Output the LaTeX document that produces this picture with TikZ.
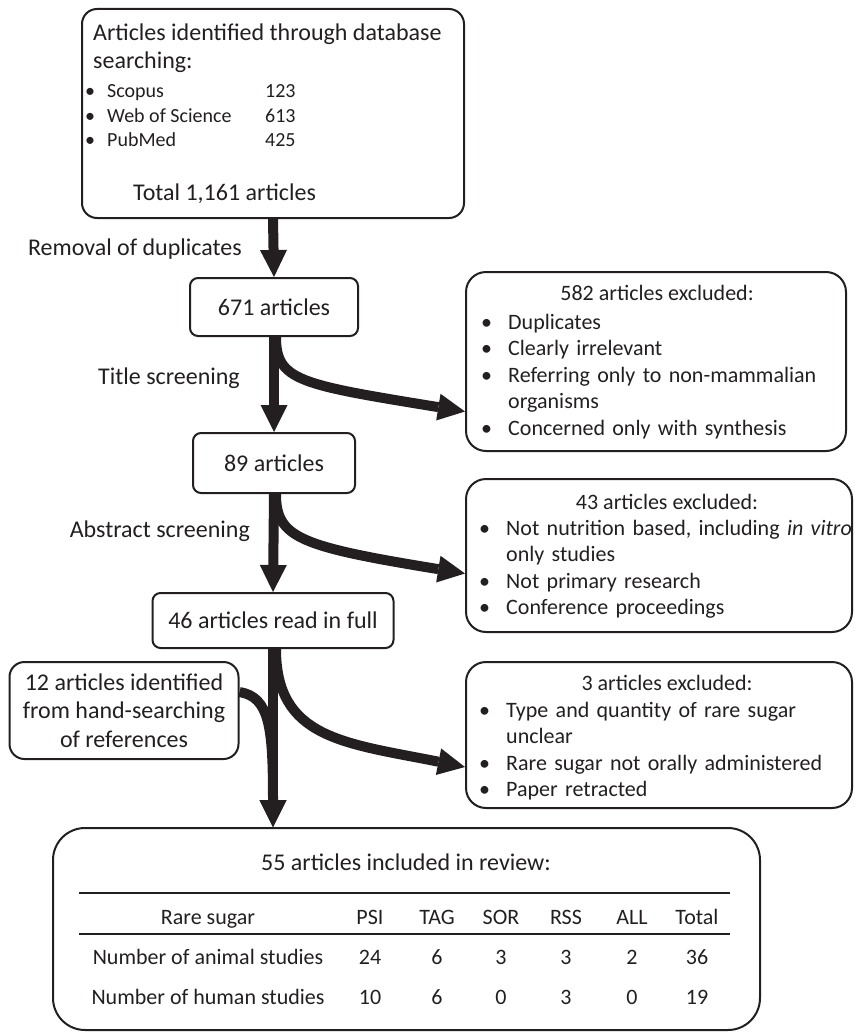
\documentclass[tikz,border=0pt]{standalone}
\usepackage{fontspec}
\setmainfont{Carlito}
\usepackage{tikz}
\usetikzlibrary{arrows.meta}
\definecolor{inkgrey}{RGB}{35,31,32}
\newcommand{\exbul}{\makebox[27pt][l]{\textbullet}}

\begin{document}
\begin{tikzpicture}[x=1pt,y=-1pt,
    color=inkgrey,
    flowbox/.style={rectangle, draw, line width=2pt, inner sep=0pt, align=center},
    big/.style={font=\fontsize{24}{28.5}\selectfont},
    mid/.style={font=\fontsize{22}{26.6}\selectfont},
    txt/.style={inner sep=0pt},
    flow/.style={line width=10pt, -{Triangle[width=27pt,length=27pt,line width=0pt]}}]
\useasboundingbox (0,0) rectangle (854,1033);

% identification
\node [flowbox,
       rounded corners=15pt,
       minimum width=382pt,
       minimum height=209pt](sea) at (273,113.5) {};
\node [txt, big, anchor=base west](seat1) at (93,41) {Articles identified through database};
\node [txt, big, anchor=base west](seat2) at (93,69) {searching:};
\foreach \db/\num [count=\i] in {Scopus/123, Web of Science/613, PubMed/425}
  \node [txt,
         font=\fontsize{20}{24.5}\selectfont,
         anchor=base west](sear\i) at (85,{97.5+24.5*(\i-1)})
         {\makebox[180pt][l]{\makebox[22pt][l]{\textbullet}\db}\num};
\node [txt, big, anchor=base west](seatot) at (133,200) {Total 1,161 articles};

% screening steps
\node [flowbox, big,
       rounded corners=8pt,
       minimum width=168pt,
       minimum height=58pt](scr) at (274,307) {671 articles};
\node [flowbox, big,
       rounded corners=8pt,
       minimum width=162pt,
       minimum height=60pt](abs) at (274,463) {89 articles};
\node [flowbox, big,
       rounded corners=8pt,
       minimum width=241pt,
       minimum height=55pt](full) at (273,620.5) {46 articles read in full};
\node [flowbox, big,
       rounded corners=15pt,
       minimum width=229pt,
       minimum height=97pt](hand) at (124,710.5) {12 articles identified\\from hand-searching\\of references};

\node [txt, big, anchor=base east](rmt) at (242,255) {Removal of duplicates};
\node [txt, big, anchor=base east](tst) at (240,384) {Title screening};
\node [txt, big, anchor=base east](ast) at (250,537) {Abstract screening};

% exclusions
\node [flowbox,
       rounded corners=20pt,
       minimum width=380pt,
       minimum height=179pt](ex1) at (656,361.5) {};
\node [txt, mid, anchor=base](ex1t) at (657,300) {582 articles excluded:};
\node [txt, mid,
       anchor=base west,
       text width=460pt,
       align=left](ex1l) at (481,329) {\exbul Duplicates\\
  \exbul Clearly irrelevant\\
  \exbul Referring only to non-mammalian\\
  \hspace*{27pt}organisms\\
  \exbul Concerned only with synthesis};

\node [flowbox,
       rounded corners=20pt,
       minimum width=386pt,
       minimum height=153pt](ex2) at (659,555.5) {};
\node [txt, mid, anchor=base](ex2t) at (667,509) {43 articles excluded:};
\node [txt, mid,
       anchor=base west,
       text width=460pt,
       align=left](ex2l) at (479,535) {\exbul Not nutrition based, including \textit{in vitro}\\
  \hspace*{27pt}only studies\\
  \exbul Not primary research\\
  \exbul Conference proceedings};

\node [flowbox,
       rounded corners=20pt,
       minimum width=386pt,
       minimum height=146pt](ex3) at (659,735) {};
\node [txt, mid, anchor=base](ex3t) at (667,690) {3 articles excluded:};
\node [txt, mid,
       anchor=base west,
       text width=460pt,
       align=left](ex3l) at (479,717) {\exbul Type and quantity of rare sugar\\
  \hspace*{27pt}unclear\\
  \exbul Rare sugar not orally administered\\
  \exbul Paper retracted};

% included
\node [flowbox,
       rounded corners=32pt,
       minimum width=707pt,
       minimum height=202pt](incl) at (406.5,929) {};
\node [txt, big, anchor=base](inclt) at (406,870) {55 articles included in review:};
\draw [line width=2pt] (79,893) -- (730,893);
\draw [line width=2pt] (79,934) -- (730,934);
\foreach \col/\x/\hd/\an/\hu in {c0/208/Rare sugar/Number of animal studies/Number of human studies,
    c1/370/PSI/24/10, c2/437/TAG/6/6, c3/501/SOR/3/0,
    c4/566/RSS/3/3, c5/632/ALL/2/0, c6/697/Total/36/19}
{
  \node [txt, mid, anchor=base](\col-h) at (\x,924) {\hd};
  \node [txt, mid, anchor=base](\col-a) at (\x,964) {\an};
  \node [txt, mid, anchor=base](\col-b) at (\x,1004) {\hu};
}

% arrows
\draw [flow] (sea.south) -- (scr.north);
\draw [flow] (scr.south) -- (abs.north);
\draw [flow] (abs.south) -- (full.north);
\draw [flow] (full.south) -- (full.south |- incl.north);
\draw [flow] ([xshift=2pt]scr.south) .. controls +(0,44) and +(-165,-27) .. ([yshift=-50pt]ex1.west);
\draw [flow] ([xshift=2pt]abs.south) .. controls +(0,44) and +(-165,-27) .. ([yshift=-18pt]ex2.west);
\draw [flow] ([xshift=3pt]full.south) .. controls +(0,90) and +(-120,-24) .. ([yshift=-32pt]ex3.west);
\draw [flow] ([yshift=18.5pt]hand.east) .. controls +(30,5) and +(0,-100) .. (full.south |- incl.north);
\end{tikzpicture}
\end{document}
